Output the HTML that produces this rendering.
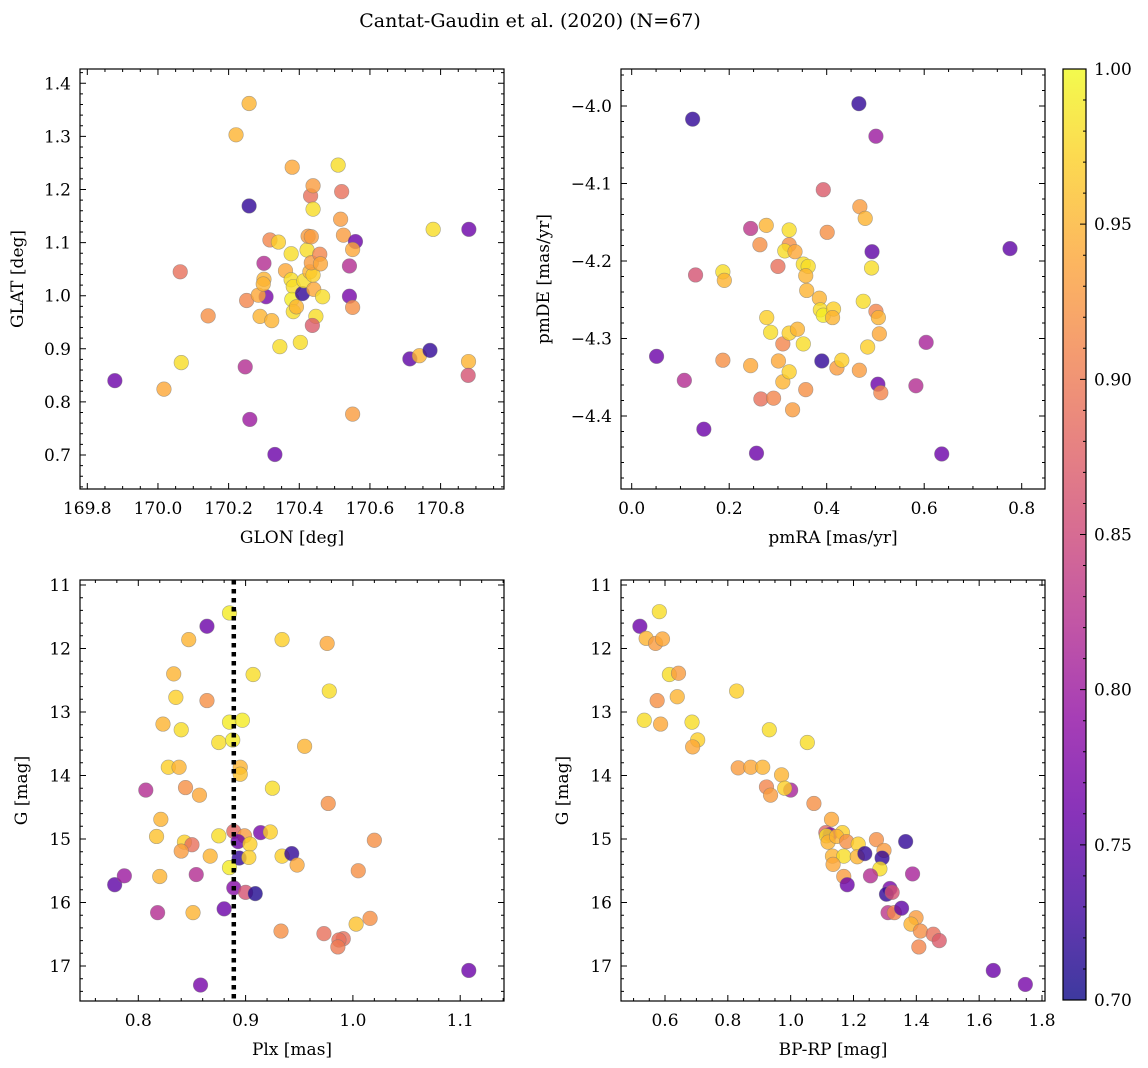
<!DOCTYPE html>
<html><head><meta charset="utf-8">
<style>
html,body{margin:0;padding:0;background:#fff;}
svg{display:block;font-family:"DejaVu Serif","Liberation Serif",serif;}
</style></head>
<body>
<svg id="fig" width="1148" height="1068" viewBox="0 0 1148 1068" xmlns="http://www.w3.org/2000/svg">
<text x="530" y="27" text-anchor="middle" font-size="19">Cantat-Gaudin et al. (2020) (N=67)</text>
</svg>
<script>
// ---- Panel 1: GLON vs GLAT ----
const p1_glon=[169.878,170.017,170.066,170.063,170.142,170.221,170.258,170.258,170.247,170.260,170.251,170.300,170.306,170.284,170.300,170.298,170.289,170.322,170.317,170.341,170.345,170.331,170.361,170.380,170.377,170.377,170.383,170.379,170.383,170.392,170.403,170.409,170.413,170.422,170.425,170.434,170.432,170.439,170.439,170.430,170.439,170.434,170.458,170.460,170.441,170.466,170.447,170.437,170.510,170.520,170.517,170.525,170.559,170.551,170.542,170.542,170.551,170.551,170.713,170.740,170.770,170.779,170.880,170.879,170.878];
const p1_glat=[0.840,0.824,0.874,1.045,0.962,1.303,1.362,1.169,0.866,0.767,0.991,1.061,0.998,1.001,1.031,1.022,0.961,0.953,1.105,1.101,0.904,0.701,1.047,1.242,1.079,1.030,1.017,0.993,0.970,0.979,0.912,1.004,1.028,1.086,1.112,1.111,1.188,1.207,1.163,1.045,1.039,1.062,1.078,1.060,1.012,0.998,0.961,0.944,1.246,1.196,1.144,1.114,1.102,1.087,1.056,0.999,0.978,0.777,0.881,0.887,0.897,1.125,1.125,0.876,0.850];
const p1_prob=[.76,.94,.98,.89,.92,.95,.95,.72,.82,.80,.91,.82,.77,.94,.95,.95,.95,.95,.91,.97,.98,.76,.94,.94,.98,.98,.98,.99,.98,.95,.98,.72,.98,.98,.93,.93,.89,.93,.98,.95,.97,.93,.91,.94,.94,.98,.98,.87,.98,.89,.93,.93,.76,.94,.82,.77,.92,.93,.75,.95,.72,.98,.76,.95,.86];
const p1_xticks=[169.8,170.0,170.2,170.4,170.6,170.8];
const p1_xlabels=["169.8","170.0","170.2","170.4","170.6","170.8"];
const p1_yticks=[0.7,0.8,0.9,1.0,1.1,1.2,1.3,1.4];
const p1_ylabels=["0.7","0.8","0.9","1.0","1.1","1.2","1.3","1.4"];

// ---- Panel 2: pmRA vs pmDE ----
const p2_pmra=[0.051,0.108,0.125,0.131,0.148,0.187,0.190,0.187,0.244,0.244,0.256,0.263,0.276,0.277,0.285,0.265,0.291,0.300,0.301,0.310,0.310,0.323,0.323,0.314,0.335,0.323,0.340,0.323,0.330,0.352,0.362,0.357,0.359,0.352,0.357,0.385,0.387,0.393,0.393,0.390,0.401,0.414,0.412,0.421,0.431,0.468,0.479,0.466,0.467,0.475,0.484,0.493,0.492,0.501,0.501,0.506,0.508,0.505,0.511,0.583,0.604,0.636,0.776];
const p2_pmde=[-4.323,-4.354,-4.017,-4.218,-4.417,-4.214,-4.225,-4.328,-4.158,-4.335,-4.448,-4.179,-4.154,-4.273,-4.292,-4.378,-4.377,-4.207,-4.329,-4.307,-4.356,-4.160,-4.179,-4.187,-4.188,-4.293,-4.288,-4.343,-4.392,-4.204,-4.207,-4.219,-4.238,-4.307,-4.366,-4.248,-4.263,-4.270,-4.108,-4.329,-4.163,-4.262,-4.273,-4.338,-4.328,-4.130,-4.145,-3.997,-4.341,-4.252,-4.311,-4.188,-4.209,-4.039,-4.265,-4.273,-4.294,-4.359,-4.370,-4.361,-4.305,-4.449,-4.184];
const p2_prob=[.76,.82,.72,.86,.76,.98,.95,.92,.83,.94,.76,.92,.95,.97,.98,.89,.91,.89,.94,.91,.95,.98,.92,.98,.94,.97,.95,.97,.93,.98,.98,.95,.95,.98,.92,.95,.98,.99,.87,.72,.92,.97,.95,.93,.97,.93,.95,.72,.93,.98,.97,.75,.98,.80,.91,.95,.94,.76,.91,.82,.81,.76,.75];
const p2_xticks=[0.0,0.2,0.4,0.6,0.8];
const p2_xlabels=["0.0","0.2","0.4","0.6","0.8"];
const p2_yticks=[-4.4,-4.3,-4.2,-4.1,-4.0];
const p2_ylabels=["\u22124.4","\u22124.3","\u22124.2","\u22124.1","\u22124.0"];

// ---- Panel 3: Plx vs G ----
const p3_plx=[0.885,0.864,0.847,0.934,0.976,0.833,0.907,0.835,0.864,0.978,0.823,0.840,0.885,0.897,0.875,0.888,0.955,0.828,0.838,0.895,0.895,0.807,0.844,0.857,0.925,0.977,0.821,0.817,0.875,0.889,0.899,0.914,0.923,0.843,0.850,0.840,0.867,0.893,0.904,0.894,0.903,0.934,0.943,0.948,0.885,0.778,0.787,0.820,0.854,0.889,0.900,0.909,0.880,0.818,0.851,0.933,0.973,0.991,0.987,0.986,1.003,1.016,1.005,1.020,0.858,1.108];
const p3_g=[11.44,11.65,11.86,11.86,11.92,12.40,12.41,12.77,12.82,12.67,13.19,13.28,13.16,13.13,13.48,13.44,13.54,13.87,13.87,13.87,13.98,14.23,14.19,14.31,14.20,14.44,14.69,14.96,14.95,14.88,14.95,14.90,14.89,15.05,15.09,15.19,15.27,15.04,15.08,15.30,15.29,15.27,15.23,15.41,15.45,15.72,15.58,15.59,15.56,15.77,15.84,15.86,16.10,16.16,16.16,16.45,16.49,16.57,16.59,16.70,16.34,16.25,15.50,15.02,17.30,17.07];
const p3_prob=[.99,.76,.95,.97,.94,.95,.98,.97,.92,.98,.95,.98,.99,.99,.98,.99,.95,.97,.95,.95,.96,.82,.92,.94,.98,.92,.95,.96,.98,.88,.93,.77,.97,.97,.89,.93,.95,.76,.97,.72,.97,.97,.72,.94,.99,.75,.80,.95,.82,.78,.86,.71,.76,.82,.95,.92,.89,.89,.89,.90,.96,.92,.92,.92,.77,.76];
const p3_xticks=[0.8,0.9,1.0,1.1];
const p3_xlabels=["0.8","0.9","1.0","1.1"];
const p3_yticks=[11,12,13,14,15,16,17];
const p3_ylabels=["11","12","13","14","15","16","17"];
const p3_plxline=[0.889];

// ---- Panel 4: BP-RP vs G ----
const p4_bprp=[0.520,0.582,0.540,0.570,0.592,0.614,0.643,0.575,0.639,0.534,0.586,0.828,0.686,0.704,0.688,0.932,1.053,0.833,0.873,0.911,0.971,0.923,0.936,1.000,0.981,1.074,1.130,1.112,1.125,1.114,1.119,1.165,1.146,1.178,1.215,1.133,1.169,1.135,1.212,1.236,1.273,1.297,1.291,1.284,1.169,1.180,1.254,1.366,1.388,1.316,1.305,1.323,1.310,1.330,1.353,1.399,1.383,1.413,1.408,1.454,1.473,1.645,1.747];
const p4_g=[11.65,11.42,11.84,11.92,11.85,12.41,12.39,12.82,12.76,13.13,13.19,12.67,13.16,13.44,13.55,13.28,13.48,13.88,13.87,13.87,13.99,14.18,14.31,14.23,14.20,14.44,14.69,14.90,14.93,14.95,15.05,14.90,14.96,15.04,15.08,15.27,15.27,15.40,15.28,15.23,15.01,15.18,15.30,15.47,15.59,15.72,15.58,15.04,15.55,15.78,15.87,15.84,16.16,16.16,16.09,16.24,16.34,16.45,16.70,16.50,16.60,17.07,17.29];
const p4_prob=[.76,.98,.95,.93,.94,.98,.93,.92,.95,.98,.94,.97,.98,.97,.94,.98,.98,.93,.94,.95,.95,.91,.93,.81,.97,.92,.94,.88,.77,.98,.95,.97,.95,.92,.97,.95,.98,.94,.95,.72,.92,.93,.72,.98,.93,.76,.82,.72,.81,.77,.72,.86,.83,.91,.75,.93,.95,.92,.91,.89,.87,.76,.77];
const p4_xticks=[0.6,0.8,1.0,1.2,1.4,1.6,1.8];
const p4_xlabels=["0.6","0.8","1.0","1.2","1.4","1.6","1.8"];
const p4_yticks=[11,12,13,14,15,16,17];
const p4_ylabels=["11","12","13","14","15","16","17"];

// ---- Colorbar ----
const cb_ticks=[0.70,0.75,0.80,0.85,0.90,0.95,1.00];
const cb_labels=["0.70","0.75","0.80","0.85","0.90","0.95","1.00"];

const NS="http://www.w3.org/2000/svg";
const svg=document.getElementById('fig');
function mk(tag,attrs,parent){const e=document.createElementNS(NS,tag);for(const k in attrs)e.setAttribute(k,attrs[k]);(parent||svg).appendChild(e);return e;}

const plasma=[[13,8,135],[65,4,157],[106,0,168],[143,13,164],[177,42,144],[204,71,120],[225,100,98],[242,132,75],[252,166,54],[252,206,37],[240,249,33]];
function cmap(v){let t=(v-0.7)/0.3;t=Math.max(0,Math.min(1,t));const f=t*10;const i=Math.min(9,Math.floor(f));const r=f-i;const a=plasma[i],b=plasma[i+1];return `rgb(${Math.round(a[0]+(b[0]-a[0])*r)},${Math.round(a[1]+(b[1]-a[1])*r)},${Math.round(a[2]+(b[2]-a[2])*r)})`;}

function linScale(d0,p0,d1,p1){return v=>p0+(v-d0)*(p1-p0)/(d1-d0);}

const FS=17;
function panel(cfg){
  const g=mk('g',{});
  
  
  const {L,R,T,B,sx,sy}=cfg;
  const pg=mk('g',{},g);
  
  
  for(let i=0;i<cfg.xs.length;i++){
    const c=mk('circle',{cx:sx(cfg.xs[i]),cy:sy(cfg.ys[i]),r:7.3,fill:cmap(cfg.ps[i]),'fill-opacity':0.8,stroke:'#777','stroke-opacity':0.6,'stroke-width':0.6},pg);
    
    
  }
  if(cfg.extra)cfg.extra(g);
  const fr=mk('rect',{x:L,y:T,width:R-L,height:B-T,fill:'none',stroke:'#000','stroke-width':1.2},g);
  
  
  let tk='';
  cfg.xt.forEach(v=>{const x=sx(v);tk+=`M${x},${B}v-6M${x},${T}v6`;});
  cfg.yt.forEach(v=>{const y=sy(v);tk+=`M${L},${y}h6M${R},${y}h-6`;});
  for(let v=cfg.xmin[0];v<=cfg.xmin[1]+1e-9;v+=cfg.xmin[2]){const x=sx(v);if(x>L&&x<R)tk+=`M${x},${B}v-3M${x},${T}v3`;}
  for(let v=cfg.ymin[0];v<=cfg.ymin[1]+1e-9;v+=cfg.ymin[2]){const y=sy(v);if(y>T&&y<B)tk+=`M${L},${y}h3M${R},${y}h-3`;}
  const tp=mk('path',{d:tk,stroke:'#000','stroke-width':1,fill:'none'},g);
  
  
  cfg.xt.forEach((v,i)=>{const t=mk('text',{x:sx(v),y:B+25,'text-anchor':'middle','font-size':FS},g);t.textContent=cfg.xl[i];
    });
  cfg.yt.forEach((v,i)=>{const t=mk('text',{x:L-9,y:sy(v)+6,'text-anchor':'end','font-size':FS},g);t.textContent=cfg.yl[i];
    });
  const xt=mk('text',{x:(L+R)/2,y:B+54,'text-anchor':'middle','font-size':FS},g);xt.textContent=cfg.xtitle;
  
  const yt=mk('text',{x:cfg.ytx,y:(T+B)/2,'text-anchor':'middle','font-size':FS,transform:`rotate(-90 ${cfg.ytx} ${(T+B)/2})`},g);yt.textContent=cfg.ytitle;
  
}

panel({name:'glon-glat-panel',L:80,R:504,T:69,B:489,sx:linScale(169.8,87.3,170.8,440.6),sy:linScale(1.4,83.3,0.7,455),
  xs:p1_glon,ys:p1_glat,ps:p1_prob,xt:p1_xticks,xl:p1_xlabels,yt:p1_yticks,yl:p1_ylabels,
  xmin:[169.75,171.0,0.05],ymin:[0.62,1.44,0.02],xtitle:'GLON [deg]',ytitle:'GLAT [deg]',ytx:23});
panel({name:'pm-panel',L:621,R:1045,T:69,B:489,sx:linScale(0,631.7,0.8,1021.7),sy:linScale(-4.0,106,-4.4,416),
  xs:p2_pmra,ys:p2_pmde,ps:p2_prob,xt:p2_xticks,xl:p2_xlabels,yt:p2_yticks,yl:p2_ylabels,
  xmin:[-0.05,0.85,0.05],ymin:[-4.5,-3.94,0.02],xtitle:'pmRA [mas/yr]',ytitle:'pmDE [mas/yr]',ytx:549});
const p3sx=linScale(0.8,138.3,1.0,352.9);
const p3sy=linScale(11,585,17,966);
panel({name:'plx-g-panel',L:80,R:504,T:580,B:1001,sx:p3sx,sy:p3sy,
  xs:p3_plx,ys:p3_g,ps:p3_prob,xt:p3_xticks,xl:p3_xlabels,yt:p3_yticks,yl:p3_ylabels,
  xmin:[0.74,1.14,0.02],ymin:[11,17.6,0.2],xtitle:'Plx [mas]',ytitle:'G [mag]',ytx:27,
  extra:g=>{p3_plxline.forEach(v=>{const l=mk('line',{x1:p3sx(v),x2:p3sx(v),y1:580,y2:1001,stroke:'#000','stroke-width':4.5,'stroke-dasharray':'4.5 4.5'},g);
    });}});
panel({name:'cmd-panel',L:621,R:1045,T:580,B:1001,sx:linScale(0.6,665,1.8,1042),sy:linScale(11,585,17,966),
  xs:p4_bprp,ys:p4_g,ps:p4_prob,xt:p4_xticks,xl:p4_xlabels,yt:p4_yticks,yl:p4_ylabels,
  xmin:[0.45,1.85,0.05],ymin:[11,17.6,0.2],xtitle:'BP-RP [mag]',ytitle:'G [mag]',ytx:568});

const cbg=mk('g',{});


const defs=mk('defs',{},cbg);
const lg=mk('linearGradient',{id:'cbgrad',x1:0,y1:1,x2:0,y2:0},defs);
for(let i=0;i<=10;i++){mk('stop',{offset:i/10,'stop-color':`rgb(${plasma[i].join(',')})`},lg);}
const cbT=69,cbB=1000,cbL=1063,cbR=1086;
const cbs=linScale(0.7,cbB,1.0,cbT);
const cr=mk('rect',{x:cbL,y:cbT,width:cbR-cbL,height:cbB-cbT,fill:'url(#cbgrad)','fill-opacity':0.8,stroke:'#000','stroke-width':1.2},cbg);


let ctk='';
for(let v=0.70;v<=1.0001;v+=0.01){const y=cbs(v);const major=Math.abs(Math.round(v*100)%5)<0.01;ctk+=`M${cbR},${y}h${major?-6:-3}`;}
const ctp=mk('path',{d:ctk,stroke:'#000','stroke-width':1},cbg);


cb_ticks.forEach((v,i)=>{const t=mk('text',{x:cbR+8,y:cbs(v)+6,'font-size':FS},cbg);t.textContent=cb_labels[i];
  });
</script>
</body></html>
